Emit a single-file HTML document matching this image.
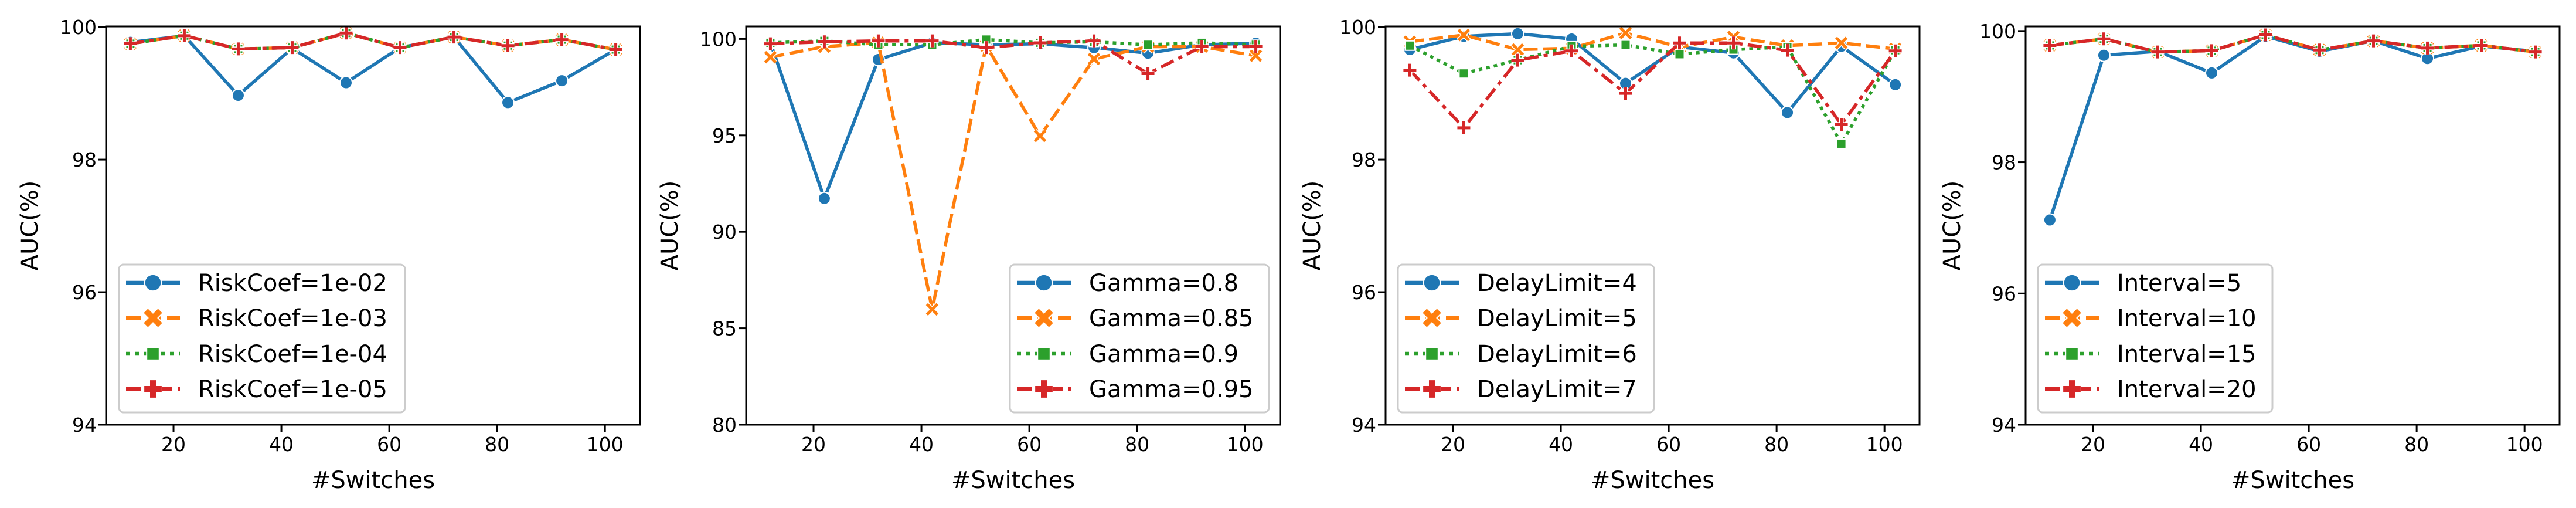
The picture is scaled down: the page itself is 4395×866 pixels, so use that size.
<!DOCTYPE html>
<html><head><meta charset="utf-8">
<style>
html,body{margin:0;padding:0;background:#fff;}
svg{display:block;font-family:"DejaVu Sans","Liberation Sans",sans-serif;}
</style></head>
<body>
<svg id="fig" width="4395" height="866" viewBox="0 0 4395 866" xmlns="http://www.w3.org/2000/svg"></svg>
<script>
const xCats = [12,22,32,42,52,62,72,82,92,102];
const xTicks = [20,40,60,80,100];
// Panel 1
const p1Labels = ["RiskCoef=1e-02","RiskCoef=1e-03","RiskCoef=1e-04","RiskCoef=1e-05"];
const p1S1 = [99.77,99.87,98.97,99.68,99.16,99.69,99.85,98.86,99.19,99.66];
const p1S2 = [99.75,99.87,99.67,99.69,99.91,99.69,99.85,99.72,99.81,99.66];
const p1S3 = [99.75,99.87,99.67,99.69,99.91,99.69,99.85,99.72,99.81,99.66];
const p1S4 = [99.75,99.87,99.67,99.69,99.91,99.69,99.85,99.72,99.81,99.66];
const p1YTicks = [94,96,98,100];
// Panel 2
const p2Labels = ["Gamma=0.8","Gamma=0.85","Gamma=0.9","Gamma=0.95"];
const p2S1 = [99.8,91.73,98.93,99.8,99.7,99.75,99.55,99.26,99.7,99.78];
const p2S2 = [99.05,99.6,99.8,85.98,99.65,94.97,98.96,99.6,99.6,99.13];
const p2S3 = [99.8,99.9,99.7,99.7,99.97,99.8,99.85,99.7,99.8,99.7];
const p2S4 = [99.75,99.85,99.9,99.9,99.55,99.8,99.9,98.2,99.6,99.6];
const p2YTicks = [80,85,90,95,100];
// Panel 3
const p3Labels = ["DelayLimit=4","DelayLimit=5","DelayLimit=6","DelayLimit=7"];
const p3S1 = [99.66,99.86,99.9,99.82,99.15,99.7,99.61,98.71,99.71,99.13];
const p3S2 = [99.78,99.88,99.66,99.68,99.91,99.7,99.85,99.72,99.76,99.67];
const p3S3 = [99.72,99.3,99.5,99.71,99.73,99.59,99.66,99.7,98.24,99.65];
const p3S4 = [99.35,98.48,99.5,99.64,99.0,99.76,99.76,99.65,98.53,99.64];
const p3YTicks = [94,96,98,100];
// Panel 4
const p4Labels = ["Interval=5","Interval=10","Interval=15","Interval=20"];
const p4S1 = [97.12,99.63,99.69,99.36,99.92,99.69,99.85,99.58,99.77,99.69];
const p4S2 = [99.78,99.88,99.68,99.7,99.94,99.71,99.85,99.74,99.78,99.68];
const p4S3 = [99.78,99.88,99.68,99.7,99.94,99.71,99.85,99.74,99.78,99.68];
const p4S4 = [99.78,99.88,99.68,99.7,99.94,99.71,99.85,99.74,99.78,99.68];
const p4YTicks = [94,96,98,100];

const NS="http://www.w3.org/2000/svg";
const fig=document.getElementById('fig');
function el(tag,attrs,parent){const e=document.createElementNS(NS,tag);for(const k in attrs)e.setAttribute(k,attrs[k]);(parent||fig).appendChild(e);return e;}
const colors=["#1f77b4","#ff7f0e","#2ca02c","#d62728"];
const dashes=["none","24 9","6 7","24 9 7 9"];
const legendDashes=["none","25 10","7 8","25 10 8 10"];

function marker(g,kind,cx,cy,c,scale){
  const s=scale;
  if(kind===0){el('circle',{cx:cx,cy:cy,r:10.5*s,fill:c,stroke:'#fff','stroke-width':2},g);}
  else if(kind===1){
    const d=`M${cx-9*s},${cy-9*s}L${cx+9*s},${cy+9*s}M${cx-9*s},${cy+9*s}L${cx+9*s},${cy-9*s}`;
    el('path',{d:d,stroke:'#fff','stroke-width':(s>1?14:8),fill:'none'},g);
    el('path',{d:d,stroke:c,'stroke-width':(s>1?10:5),fill:'none'},g);
  } else if(kind===2){
    el('rect',{x:cx-8*s,y:cy-8*s,width:16*s,height:16*s,fill:c,stroke:'#fff','stroke-width':2},g);
  } else {
    const d=`M${cx-11*s},${cy}L${cx+11*s},${cy}M${cx},${cy-11*s}L${cx},${cy+11*s}`;
    el('path',{d:d,stroke:'#fff','stroke-width':(s>1?14:8),fill:'none'},g);
    el('path',{d:d,stroke:c,'stroke-width':(s>1?10:5),fill:'none'},g);
  }
}

function panel(idx,left,yMin,yMax,yTicks,series,labels,legX,legW){
  const W=911,top=45,bottom=724;
  const xMin=7.5,xMax=106.5;
  const X=v=>left+(v-xMin)/(xMax-xMin)*W;
  const Y=v=>bottom-(v-yMin)/(yMax-yMin)*(bottom-top);
  const g=el('g',{});
  
  
  // series
  series.forEach((arr,si)=>{
    const sg=el('g',{},g);
    
    
    const pts=arr.map((v,i)=>X(xCats[i]).toFixed(1)+','+Y(v).toFixed(1)).join(' ');
    const pl=el('polyline',{points:pts,fill:'none',stroke:colors[si],'stroke-width':5.5,'stroke-dasharray':dashes[si],'stroke-linejoin':'round'},sg);
    
    
    arr.forEach((v,i)=>marker(sg,si,X(xCats[i]),Y(v),colors[si],1));
  });
  // frame
  const fr=el('rect',{x:left,y:top,width:W,height:bottom-top,fill:'none',stroke:'#000','stroke-width':3},g);
  
  
  // y ticks
  yTicks.forEach(t=>{
    const y=Y(t);
    el('line',{x1:left-13,x2:left,y1:y,y2:y,stroke:'#000','stroke-width':3},g);
    const tx=el('text',{x:left-16,y:y+12,'text-anchor':'end','font-size':33,fill:'#000'},g);
    tx.textContent=t;
    
    
  });
  xTicks.forEach(t=>{
    const x=X(t);
    el('line',{x1:x,x2:x,y1:bottom,y2:bottom+13,stroke:'#000','stroke-width':3},g);
    const tx=el('text',{x:x,y:769,'text-anchor':'middle','font-size':33,fill:'#000'},g);
    tx.textContent=t;
    
    
  });
  const xl=el('text',{x:left+W/2,y:832,'text-anchor':'middle','font-size':40,fill:'#000'},g);
  xl.textContent='#Switches';
  
  
  const yx=left-(idx===0?131:(idx===1?131:126));
  const yl=el('text',{x:0,y:0,transform:`translate(${yx+14},${(top+bottom)/2}) rotate(-90)`,'text-anchor':'middle','font-size':40,fill:'#000'},g);
  yl.textContent='AUC(%)';
  
  
  // legend
  const lg=el('g',{},g);
  
  
  el('rect',{x:legX,y:451,width:legW,height:252,rx:8,fill:'#fff','fill-opacity':0.8,stroke:'#cccccc','stroke-width':3},lg);
  const rows=[482,542,603,663];
  labels.forEach((lab,i)=>{
    const eg=el('g',{},lg);
    
    
    const hx=legX+12;
    el('line',{x1:hx,x2:hx+92,y1:rows[i],y2:rows[i],stroke:colors[i],'stroke-width':6.5,'stroke-dasharray':legendDashes[i]},eg);
    marker(eg,i,hx+46,rows[i],colors[i],1.35);
    const t=el('text',{x:legX+135,y:rows[i]+14,'font-size':40,fill:'#000'},eg);
    t.textContent=lab;
  });
}
panel(0,181,94,100.01,p1YTicks,[p1S1,p1S2,p1S3,p1S4],p1Labels,203,488);
panel(1,1273,80,100.65,p2YTicks,[p2S1,p2S2,p2S3,p2S4],p2Labels,1723,442);
panel(2,2364,94,100.01,p3YTicks,[p3S1,p3S2,p3S3,p3S4],p3Labels,2385,437);
panel(3,3456,94,100.07,p4YTicks,[p4S1,p4S2,p4S3,p4S4],p4Labels,3477,400);
</script>
</body></html>
